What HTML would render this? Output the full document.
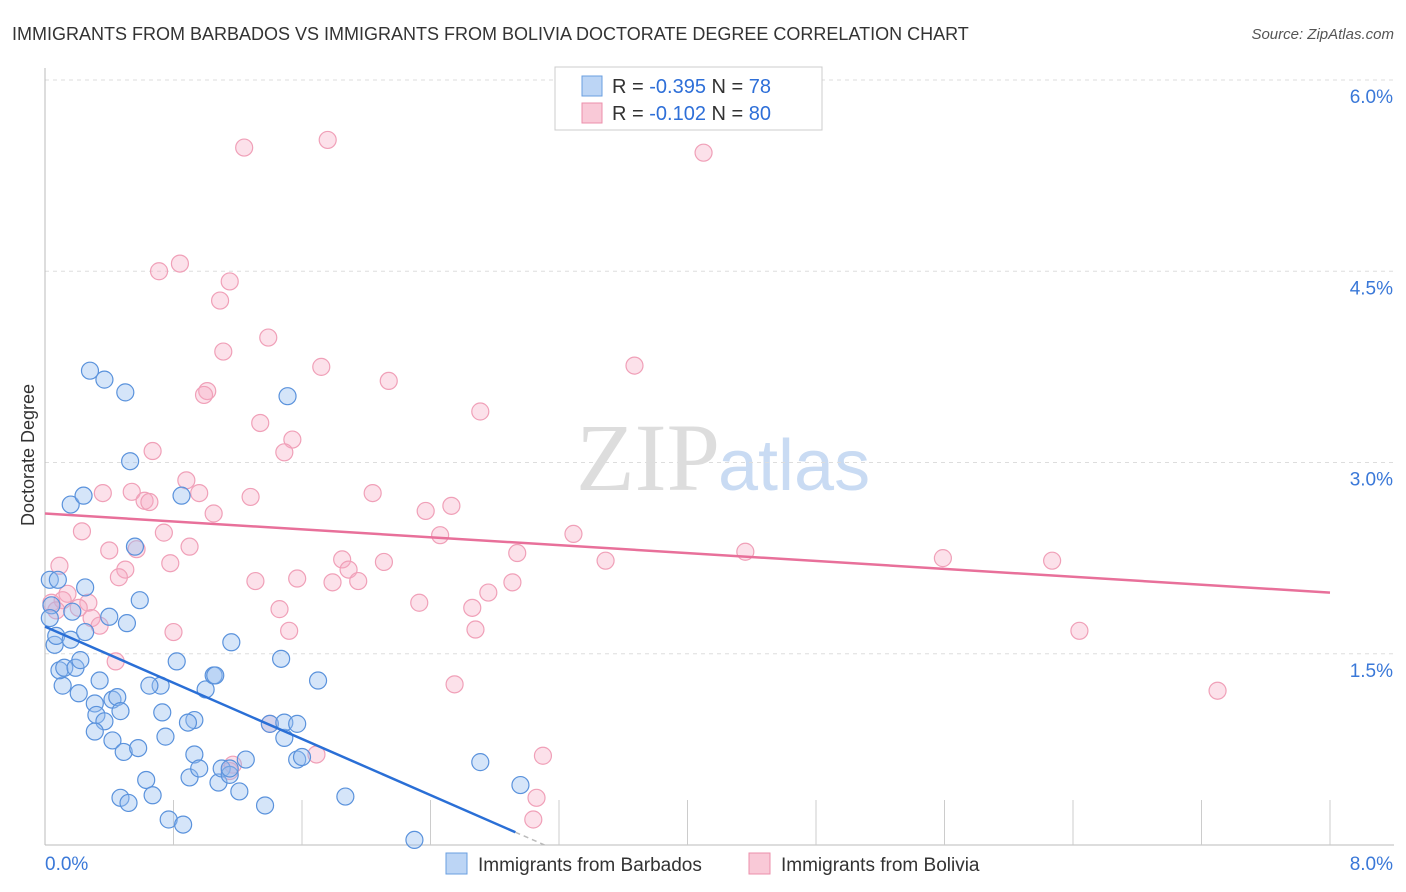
<!DOCTYPE html>
<html><head><meta charset="utf-8"><style>
body{margin:0;background:#fff;font-family:"Liberation Sans",sans-serif}
svg{display:block}
</style></head><body>
<svg id="chart" width="1406" height="892">
<text x="12" y="40" font-size="18" fill="#333">IMMIGRANTS FROM BARBADOS VS IMMIGRANTS FROM BOLIVIA DOCTORATE DEGREE CORRELATION CHART</text>
<text x="1394" y="39" font-size="15" fill="#555" font-style="italic" text-anchor="end">Source: ZipAtlas.com</text>
<text x="720" y="490" font-size="96" fill="#ddd" text-anchor="end" font-family="Liberation Serif">ZIP</text>
<text x="718" y="490" font-size="72" fill="#c9dbf3">atlas</text>
<text transform="translate(34,455) rotate(-90)" font-size="18" fill="#333" text-anchor="middle">Doctorate Degree</text>
<g id="grid"></g><g id="pts"></g><g id="lines"></g>
<g>
<rect x="555" y="67" width="267" height="63" fill="#fff" stroke="#ccc"/>
<rect x="582" y="76" width="20" height="20" fill="#bcd5f5" stroke="#6a9fe0"/>
<rect x="582" y="103" width="20" height="20" fill="#f9c9d7" stroke="#ec8fab"/>
<text x="612" y="93" font-size="20" fill="#333">R = <tspan fill="#2e6fd8">-0.395</tspan>   N = <tspan fill="#2e6fd8">78</tspan></text>
<text x="612" y="120" font-size="20" fill="#333">R =  <tspan fill="#2e6fd8">-0.102</tspan>   N = <tspan fill="#2e6fd8">80</tspan></text>
</g>
<g>
<rect x="446" y="853" width="21" height="21" fill="#bcd5f5" stroke="#6a9fe0"/>
<text x="478" y="871" font-size="19" fill="#333">Immigrants from Barbados</text>
<rect x="749" y="853" width="21" height="21" fill="#f9c9d7" stroke="#ec8fab"/>
<text x="781" y="871" font-size="19" fill="#333">Immigrants from Bolivia</text>
</g>
</svg>
<script>
const yTicks=[1.5,3.0,4.5,6.0];
const xTickLabels=["0.0%","8.0%"];
const blueX=[0.03,0.04,0.03,0.06,0.07,0.11,0.09,0.12,0.16,0.19,0.21,0.17,0.22,0.25,0.25,0.28,0.37,0.50,0.53,0.16,0.24,0.31,0.34,0.32,0.37,0.42,0.45,0.47,0.40,0.51,0.59,0.56,0.31,0.42,0.49,0.58,0.63,0.47,0.52,0.67,0.72,0.73,0.75,0.82,0.77,0.86,0.85,0.93,0.89,0.93,0.90,0.96,1.00,1.05,1.06,1.08,1.10,1.15,1.16,1.21,1.25,1.37,1.40,1.47,1.51,1.49,1.49,1.57,1.57,1.60,1.70,1.87,2.30,2.71,2.96,0.08,0.65,1.15];
const blueY=[2.08,1.88,1.78,1.57,1.64,1.25,1.37,1.39,1.61,1.39,1.19,1.83,1.45,1.67,2.02,3.72,3.65,3.55,3.01,2.67,2.74,1.11,1.29,1.02,0.97,1.14,1.16,1.05,1.79,1.74,1.92,2.34,0.89,0.82,0.73,0.76,0.51,0.37,0.33,0.39,1.25,1.04,0.85,1.44,0.20,0.16,2.74,0.98,0.96,0.71,0.53,0.60,1.22,1.33,1.33,0.49,0.60,0.55,1.59,0.42,0.67,0.31,0.95,1.46,3.52,0.84,0.96,0.95,0.67,0.69,1.29,0.38,0.04,0.65,0.47,2.08,1.25,0.60];
const pinkX=[1.24,1.76,4.10,0.71,0.84,1.15,1.09,1.39,1.11,1.72,2.14,3.67,1.01,0.99,2.71,1.34,1.54,1.49,0.67,0.88,0.96,0.54,0.36,0.62,0.65,1.28,1.05,2.04,2.53,2.37,0.23,0.74,3.29,2.46,0.57,0.40,0.90,2.94,4.36,5.59,6.27,1.85,2.11,3.49,0.78,0.09,1.89,0.50,0.46,1.31,1.57,1.79,1.95,2.91,2.76,0.14,0.11,0.04,0.07,0.27,0.21,2.33,2.66,1.46,0.29,0.34,2.68,0.80,1.52,6.44,0.44,2.55,7.30,1.40,1.69,3.10,1.17,1.15,3.06,3.04];
const pinkY=[5.47,5.53,5.43,4.50,4.56,4.42,4.27,3.98,3.87,3.75,3.64,3.76,3.56,3.53,3.40,3.31,3.18,3.08,3.09,2.86,2.76,2.77,2.76,2.70,2.69,2.73,2.60,2.76,2.66,2.62,2.46,2.45,2.44,2.43,2.32,2.31,2.34,2.29,2.30,2.25,2.23,2.24,2.22,2.23,2.21,2.19,2.16,2.16,2.10,2.07,2.09,2.06,2.07,2.06,1.98,1.97,1.92,1.90,1.84,1.90,1.86,1.90,1.86,1.85,1.78,1.72,1.69,1.67,1.68,1.68,1.44,1.26,1.21,0.95,0.71,0.70,0.63,0.58,0.37,0.20];
const NS='http://www.w3.org/2000/svg';
const X0=45,X1=1330,Y0=845,YTOP=80;
const sx=v=>X0+v/8*(X1-X0);
const sy=v=>Y0-v/6*(Y0-YTOP);
function mk(tag,attrs,parent){const e=document.createElementNS(NS,tag);for(const k in attrs)e.setAttribute(k,attrs[k]);parent.appendChild(e);return e;}
const grid=document.getElementById('grid');
yTicks.forEach(t=>{
  const l=mk('line',{x1:X0,x2:1394,y1:sy(t),y2:sy(t),stroke:'#ddd','stroke-dasharray':'4,4'},grid);
  
  
  const tx=mk('text',{x:1393,y:sy(t)+23,'font-size':19,fill:'#3a78d8','text-anchor':'end'},grid);
  tx.textContent=t.toFixed(1)+'%';
  
  
});
mk('line',{x1:X0,x2:X0,y1:68,y2:Y0,stroke:'#bbb'},grid);
mk('line',{x1:X0,x2:1394,y1:Y0,y2:Y0,stroke:'#bbb'},grid);
for(let i=1;i<=10;i++){const x=sx(i*0.8);const t=mk('line',{x1:x,x2:x,y1:Y0,y2:Y0-45,stroke:'#ccc'},grid);

}
const xl0=mk('text',{x:45,y:870,'font-size':19,fill:'#3a78d8'},grid);xl0.textContent=xTickLabels[0];


const xl1=mk('text',{x:1393,y:870,'font-size':19,fill:'#3a78d8','text-anchor':'end'},grid);xl1.textContent=xTickLabels[1];


const pts=document.getElementById('pts');
pinkX.forEach((v,i)=>{const c=mk('circle',{cx:sx(v),cy:sy(pinkY[i]),r:8.5,fill:'rgba(246,170,195,0.35)',stroke:'#f0a0b8','stroke-width':1.2},pts);

});
blueX.forEach((v,i)=>{const c=mk('circle',{cx:sx(v),cy:sy(blueY[i]),r:8.5,fill:'rgba(150,190,240,0.4)',stroke:'#5a92dc','stroke-width':1.2},pts);

});
function fit(xs,ys){const n=xs.length;let mx=0,my=0;xs.forEach((x,i)=>{mx+=x;my+=ys[i];});mx/=n;my/=n;let sxy=0,sxx=0;xs.forEach((x,i)=>{sxy+=(x-mx)*(ys[i]-my);sxx+=(x-mx)**2;});const b=sxy/sxx;return [my-b*mx,b];}
const lines=document.getElementById('lines');
const [ba,bb]=fit(blueX,blueY);const bEnd=(0.1-ba)/bb;
const bl=mk('line',{x1:sx(0),y1:sy(ba),x2:sx(bEnd),y2:sy(ba+bb*bEnd),stroke:'#2a6fd6','stroke-width':2.5},lines);


const bEnd2=-ba/bb;
const bd=mk('line',{x1:sx(bEnd),y1:sy(ba+bb*bEnd),x2:sx(bEnd2),y2:sy(0),stroke:'#bbb','stroke-width':1.5,'stroke-dasharray':'5,4'},lines);


const [pa,pb]=fit(pinkX,pinkY);
const pl=mk('line',{x1:sx(0),y1:sy(pa),x2:sx(8),y2:sy(pa+pb*8),stroke:'#e8709a','stroke-width':2.5},lines);


</script>
</body></html>
